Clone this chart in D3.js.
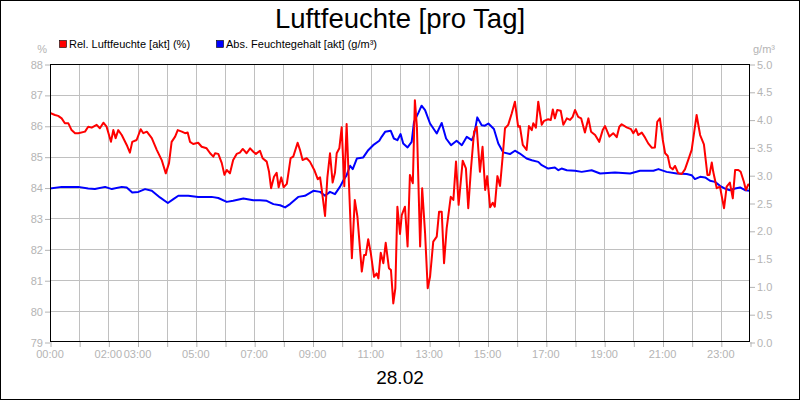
<!DOCTYPE html>
<html><head><meta charset="utf-8">
<script src="https://cdn.jsdelivr.net/npm/d3@7"></script>
<style>body{margin:0;background:#fff}svg{display:block;font-family:"Liberation Sans",Arial,sans-serif}</style>
</head><body>
<svg id="c" width="800" height="400"></svg>
<script>
const title = "Luftfeuchte [pro Tag]";
const dateLabel = "28.02";
const seriesNames = ["Rel. Luftfeuchte [akt] (%)", "Abs. Feuchtegehalt [akt] (g/m³)"];
const seriesColors = ["#ff0000", "#0000ff"];
const leftUnit = "%";
const rightUnit = "g/m³";
const xTickHours = [0,2,3,5,7,9,11,13,15,17,19,21,23];
const xTickLabels = ["00:00","02:00","03:00","05:00","07:00","09:00","11:00","13:00","15:00","17:00","19:00","21:00","23:00"];
const leftTicks = [79,80,81,82,83,84,85,86,87,88];
const rightTicks = [0,0.5,1,1.5,2,2.5,3,3.5,4,4.5,5];

const relHours = [0,0.17,0.28,0.40,0.51,0.63,0.74,0.86,0.97,1.20,1.31,1.43,1.60,1.71,1.83,1.94,2.09,2.17,2.25,2.34,2.46,2.63,2.74,2.82,2.97,3.11,3.20,3.32,3.49,3.66,3.83,3.97,4.08,4.17,4.29,4.38,4.52,4.63,4.72,4.80,4.91,5.08,5.20,5.37,5.49,5.60,5.66,5.77,5.89,5.98,6.06,6.17,6.28,6.40,6.51,6.61,6.74,6.86,6.97,7.06,7.20,7.29,7.43,7.51,7.58,7.68,7.77,7.84,7.93,8.01,8.12,8.25,8.34,8.49,8.57,8.66,8.80,8.91,9.06,9.18,9.26,9.32,9.43,9.51,9.60,9.69,9.77,9.83,9.92,10.00,10.09,10.17,10.35,10.45,10.54,10.69,10.77,10.83,10.91,11.00,11.11,11.20,11.26,11.34,11.43,11.51,11.62,11.69,11.77,11.84,11.91,12.00,12.06,12.17,12.26,12.34,12.44,12.51,12.58,12.69,12.76,12.86,12.95,13.03,13.14,13.26,13.34,13.43,13.51,13.60,13.74,13.83,13.92,14.01,14.15,14.26,14.34,14.43,14.54,14.63,14.74,14.83,14.92,14.99,15.09,15.18,15.25,15.34,15.43,15.52,15.60,15.71,15.83,15.94,16.05,16.11,16.21,16.34,16.42,16.52,16.57,16.66,16.74,16.86,16.94,17.08,17.17,17.24,17.31,17.39,17.51,17.60,17.72,17.83,17.92,18.00,18.11,18.21,18.34,18.46,18.55,18.69,18.83,18.95,19.03,19.18,19.31,19.43,19.52,19.60,19.77,19.92,20.00,20.09,20.17,20.29,20.38,20.51,20.63,20.74,20.82,20.91,21.01,21.09,21.18,21.26,21.35,21.43,21.54,21.66,21.77,21.88,22.00,22.17,22.29,22.42,22.54,22.61,22.69,22.74,22.86,22.97,23.11,23.20,23.31,23.41,23.49,23.60,23.68,23.79,23.86,23.94,24.00];
const relValues = [86.42,86.35,86.32,86.24,86.08,86.08,85.86,85.76,85.76,85.81,85.97,85.94,86.03,85.92,86.10,85.97,85.48,85.86,85.60,85.86,85.70,85.38,85.13,85.48,85.54,85.89,85.76,85.81,85.60,85.22,84.89,84.46,84.79,85.48,85.65,85.86,85.81,85.76,85.78,85.48,85.41,85.45,85.32,85.27,85.11,85.00,85.11,85.09,84.79,84.41,84.57,84.46,84.89,85.09,85.13,85.25,85.11,85.27,85.16,85.09,85.19,84.95,84.84,84.51,83.98,84.35,84.48,84.01,84.33,84.01,84.12,84.95,85.00,85.45,85.22,84.89,84.95,84.84,84.57,84.27,84.33,83.92,83.08,84.33,85.11,84.16,84.48,85.11,85.27,85.95,84.04,86.06,81.71,83.60,83.06,81.28,81.82,81.82,82.33,81.87,81.11,81.22,81.06,81.89,81.55,82.21,81.39,81.33,80.25,80.74,83.38,82.50,83.11,83.38,82.09,84.41,84.14,86.83,85.97,82.09,83.98,82.52,80.74,81.11,82.25,82.41,83.22,83.22,81.55,82.68,83.70,83.60,84.84,83.44,84.87,84.62,83.33,84.57,85.81,85.97,84.51,85.32,83.92,84.37,83.36,83.51,83.38,84.37,84.05,85.00,85.92,86.03,86.40,86.78,85.97,85.99,85.38,85.22,85.99,85.86,86.08,85.94,86.78,86.03,86.16,86.21,86.19,86.53,86.24,86.51,86.49,86.03,86.24,86.19,86.29,86.51,86.29,86.24,85.78,86.24,85.81,85.70,85.48,85.86,85.99,85.65,85.76,85.63,85.97,86.05,85.95,85.89,85.76,85.89,85.70,85.78,85.65,85.43,85.29,85.30,86.13,86.24,85.54,85.11,85.02,84.66,84.59,84.70,84.46,84.44,84.59,84.89,85.22,86.35,85.70,85.40,84.41,84.41,84.81,84.51,83.98,84.03,83.33,84.03,84.16,83.65,84.57,84.57,84.51,84.19,83.92,84.10,84.05];

const absHours = [0,0.40,0.97,1.31,1.54,1.89,2.12,2.46,2.63,2.82,3.03,3.26,3.49,3.77,4.04,4.23,4.40,4.74,5.08,5.31,5.54,5.77,6.06,6.28,6.63,6.97,7.20,7.43,7.66,7.89,8.06,8.23,8.51,8.74,9.03,9.26,9.43,9.60,9.77,9.94,10.06,10.17,10.29,10.38,10.52,10.74,10.91,11.08,11.29,11.37,11.49,11.68,11.79,11.91,12.02,12.11,12.26,12.40,12.48,12.63,12.74,12.86,13.03,13.26,13.43,13.58,13.75,13.94,14.12,14.29,14.46,14.54,14.65,14.80,14.91,15.03,15.22,15.37,15.54,15.77,15.94,16.11,16.34,16.52,16.74,16.86,17.08,17.31,17.43,17.54,17.72,18.00,18.23,18.57,18.86,19.37,19.89,20.23,20.69,20.86,21.14,21.49,21.83,22.00,22.11,22.29,22.46,22.63,22.80,22.97,23.14,23.31,23.49,23.66,23.83,24.00];
const absValues = [2.76,2.79,2.79,2.76,2.75,2.79,2.75,2.79,2.78,2.69,2.70,2.75,2.72,2.60,2.50,2.57,2.63,2.63,2.61,2.61,2.61,2.59,2.52,2.54,2.58,2.55,2.55,2.54,2.48,2.46,2.42,2.48,2.61,2.63,2.72,2.70,2.63,2.70,2.66,2.79,2.91,3.00,3.17,3.11,3.30,3.32,3.45,3.54,3.62,3.69,3.78,3.80,3.66,3.63,3.74,3.57,3.50,3.60,3.96,4.12,4.25,4.17,3.93,3.75,3.94,3.66,3.54,3.62,3.54,3.69,3.63,3.72,4.04,3.90,3.89,3.93,3.83,3.57,3.41,3.38,3.44,3.39,3.30,3.27,3.24,3.18,3.12,3.14,3.09,3.12,3.09,3.08,3.06,3.09,3.03,3.05,3.03,3.08,3.08,3.11,3.06,3.03,3.02,3.00,2.93,2.97,2.96,2.90,2.88,2.81,2.76,2.73,2.76,2.78,2.73,2.72];

const svg = d3.select("#c");
const W = 800, H = 400;
const L = 50, R = 750, T = 64, B = 342;
const grey = "#b4b4b4", gridC = "#c0c0c0";

svg.append("rect").attr("x",0.5).attr("y",0.5).attr("width",W-1).attr("height",H-1).attr("fill","#fff").attr("stroke","#000");

const x = d3.scaleLinear().domain([0,24]).range([L,R]);
const yL = d3.scaleLinear().domain([79,88]).range([B,T]);
const yR = d3.scaleLinear().domain([0,5]).range([B,T]);

// grid
const g = svg.append("g");
g.selectAll(".vg").data(d3.range(1,24)).enter().append("line")
  .attr("x1",d=>Math.round(x(d))+0.5).attr("x2",d=>Math.round(x(d))+0.5)
  .attr("y1",T).attr("y2",B).attr("stroke",gridC);
g.selectAll(".hg").data(leftTicks.slice(1,-1)).enter().append("line")
  .attr("y1",d=>Math.round(yL(d))+0.5).attr("y2",d=>Math.round(yL(d))+0.5)
  .attr("x1",L).attr("x2",R).attr("stroke",gridC);

// x axis ticks & labels
const xAxis = d3.axisBottom(x).tickValues(d3.range(0,25)).tickSize(5).tickFormat("");
const xa = svg.append("g").attr("transform",`translate(0.5,${B})`).call(xAxis);
xa.select(".domain").remove();
xa.selectAll("line").attr("stroke",grey);
svg.append("g").selectAll("text").data(xTickHours).enter().append("text")
  .attr("x",d=>x(d)).attr("y",B+16).attr("text-anchor","middle")
  .attr("font-size",11).attr("fill",grey).text((d,i)=>xTickLabels[i]);

// left axis
const la = svg.append("g").attr("transform",`translate(${L},0.5)`)
  .call(d3.axisLeft(yL).tickValues(leftTicks).tickSize(5).tickPadding(2).tickFormat(d3.format("d")));
la.select(".domain").remove();
la.selectAll("line").attr("stroke",grey);
la.selectAll("text").attr("fill",grey).attr("font-size",11).attr("font-family","Liberation Sans, Arial");

// right axis
const ra = svg.append("g").attr("transform",`translate(${R},0.5)`)
  .call(d3.axisRight(yR).tickValues(rightTicks).tickSize(5).tickPadding(2).tickFormat(d3.format(".1f")));
ra.select(".domain").remove();
ra.selectAll("line").attr("stroke",grey);
ra.selectAll("text").attr("fill",grey).attr("font-size",11).attr("font-family","Liberation Sans, Arial");

svg.append("text").attr("x",47).attr("y",53).attr("text-anchor","end").attr("font-size",11).attr("fill",grey).text(leftUnit);
svg.append("text").attr("x",753).attr("y",53).attr("font-size",11).attr("fill",grey).text(rightUnit);

// lines
svg.append("clipPath").attr("id","clip").append("rect").attr("x",L).attr("y",T).attr("width",R-L).attr("height",B-T);
const plot = svg.append("g").attr("clip-path","url(#clip)");
const relData = relHours.map((h,i)=>[h,relValues[i]]);
const absData = absHours.map((h,i)=>[h,absValues[i]]);
plot.append("path").datum(absData).attr("fill","none").attr("stroke",seriesColors[1]).attr("stroke-width",2).attr("stroke-linejoin","round")
  .attr("d",d3.line().x(d=>x(d[0])).y(d=>yR(d[1])));
plot.append("path").datum(relData).attr("fill","none").attr("stroke",seriesColors[0]).attr("stroke-width",2).attr("stroke-linejoin","round")
  .attr("d",d3.line().x(d=>x(d[0])).y(d=>yL(d[1])));

// plot frame
svg.append("rect").attr("x",L+0.5).attr("y",T+0.5).attr("width",R-L-1).attr("height",B-T-1).attr("fill","none").attr("stroke","#000");

// title / legend / date
svg.append("text").attr("x",400).attr("y",28).attr("text-anchor","middle").attr("font-size",27.5).attr("fill","#000").text(title);
const legX = [59,216];
seriesNames.forEach((n,i)=>{
  svg.append("rect").attr("x",legX[i]+0.5).attr("y",40.5).attr("width",7).attr("height",7).attr("fill",seriesColors[i]).attr("stroke","#000").attr("stroke-width",0.6);
  svg.append("text").attr("x",legX[i]+10).attr("y",48).attr("font-size",11).attr("fill","#000").text(n);
});
svg.append("text").attr("x",400).attr("y",384).attr("text-anchor","middle").attr("font-size",19).attr("fill","#000").text(dateLabel);
</script>
</body></html>
